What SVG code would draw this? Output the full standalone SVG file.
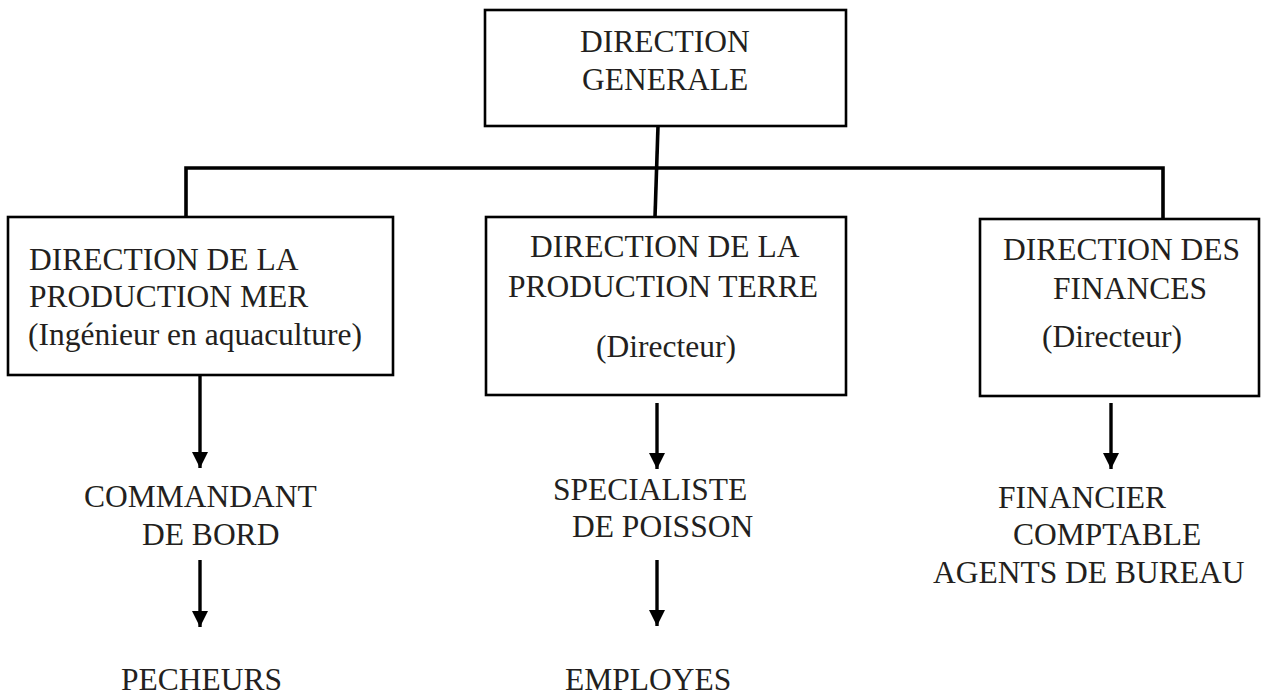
<svg xmlns="http://www.w3.org/2000/svg" width="1261" height="700" viewBox="0 0 1261 700">
<style>
.box{fill:#fff;stroke:#000;stroke-width:2.6}
.t{font-family:"Liberation Serif","Times New Roman",serif;font-size:31.5px;fill:#231f20}
.c{stroke:#000;stroke-width:3.6;fill:none}
.a{stroke:#000;stroke-width:3.4;fill:none;marker-end:url(#ah)}
</style>
<defs>
<marker id="ah" markerUnits="userSpaceOnUse" markerWidth="18" markerHeight="18" refX="16" refY="8" orient="auto">
<path d="M0,0 L16,8 L0,16 Z" fill="#000"/>
</marker>
</defs>
<rect width="1261" height="700" fill="#fff"/>
<g id="connectors">
<polyline class="c" points="186,217 186,168 1163,168 1163,218"/>
<line class="c" x1="658" y1="126" x2="655" y2="217"/>
<line class="a" x1="200" y1="376" x2="200" y2="468"/>
<line class="a" x1="200" y1="560" x2="200" y2="627"/>
<line class="a" x1="657" y1="403" x2="657" y2="469"/>
<line class="a" x1="657" y1="560" x2="657" y2="626"/>
<line class="a" x1="1111" y1="403" x2="1111" y2="469"/>
</g>
<g id="direction-generale">
<rect class="box" x="485" y="10" width="361" height="116"/>
<text class="t" x="580" y="52">DIRECTION</text>
<text class="t" x="582" y="90">GENERALE</text>
</g>
<g id="direction-mer">
<rect class="box" x="8" y="217" width="385" height="158"/>
<text class="t" x="29" y="270">DIRECTION DE LA</text>
<text class="t" x="29" y="307">PRODUCTION MER</text>
<text class="t" x="28" y="345">(Ingénieur en aquaculture)</text>
</g>
<g id="direction-terre">
<rect class="box" x="486" y="217" width="360" height="178"/>
<text class="t" x="530" y="257">DIRECTION DE LA</text>
<text class="t" x="508" y="297">PRODUCTION TERRE</text>
<text class="t" x="596" y="357">(Directeur)</text>
</g>
<g id="direction-finances">
<rect class="box" x="980" y="219" width="279" height="177"/>
<text class="t" x="1003" y="260">DIRECTION DES</text>
<text class="t" x="1053" y="299">FINANCES</text>
<text class="t" x="1042" y="347">(Directeur)</text>
</g>
<g id="commandant">
<text class="t" x="84" y="507">COMMANDANT</text>
<text class="t" x="142" y="545">DE BORD</text>
</g>
<g id="pecheurs">
<text class="t" x="121" y="690">PECHEURS</text>
</g>
<g id="specialiste">
<text class="t" x="553" y="500">SPECIALISTE</text>
<text class="t" x="572" y="537">DE POISSON</text>
</g>
<g id="employes">
<text class="t" x="565" y="690">EMPLOYES</text>
</g>
<g id="financier">
<text class="t" x="998" y="508">FINANCIER</text>
<text class="t" x="1013" y="545">COMPTABLE</text>
<text class="t" x="933" y="583">AGENTS DE BUREAU</text>
</g>
</svg>
